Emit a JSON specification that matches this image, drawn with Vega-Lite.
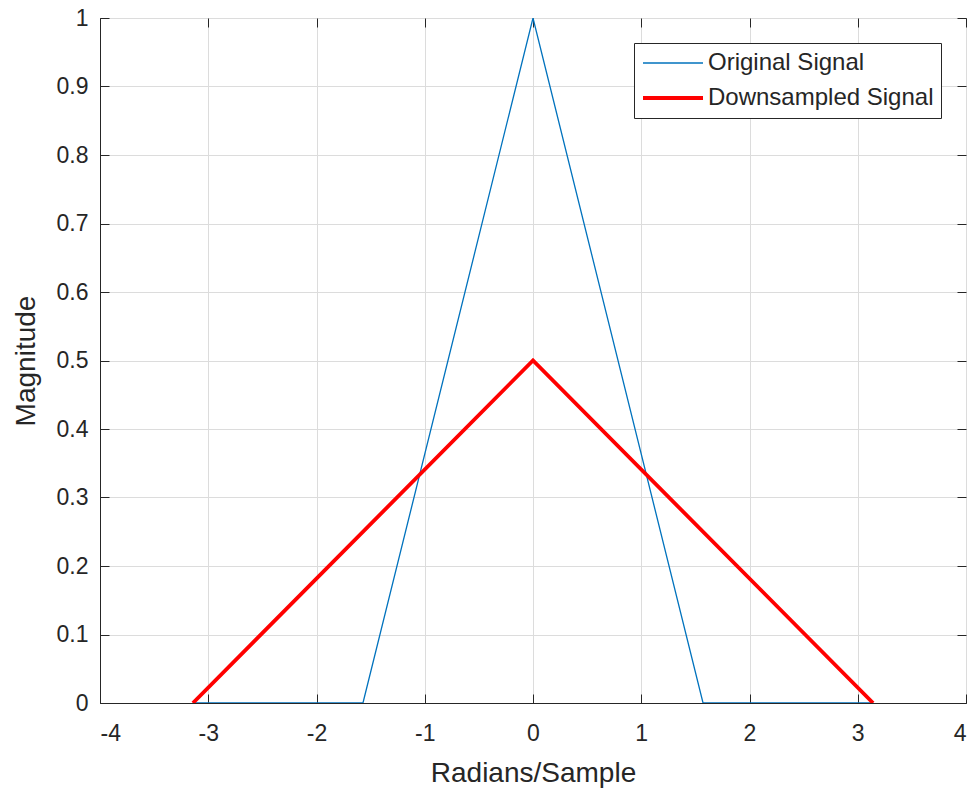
{
  "$schema": "https://vega.github.io/schema/vega-lite/v6.json",
  "width": 866,
  "height": 685,
  "autosize": {"type": "none"},
  "padding": {"left": 100, "top": 18, "right": 10, "bottom": 87},
  "background": "white",
  "config": {
    "font": "Liberation Sans",
    "view": {"stroke": "#262626", "strokeWidth": 1},
    "axis": {
      "domainColor": "#262626",
      "tickColor": "#262626",
      "gridColor": "#dcdcdc",
      "gridOpacity": 1,
      "labelColor": "#262626",
      "titleColor": "#262626",
      "labelFontSize": 23,
      "titleFontSize": 28,
      "titleFontWeight": "normal",
      "tickSize": -9
    }
  },
  "data": {
    "values": [
      {"series": "Original Signal", "x": -3.14159, "y": 0},
      {"series": "Original Signal", "x": -1.5708, "y": 0},
      {"series": "Original Signal", "x": 0, "y": 1},
      {"series": "Original Signal", "x": 1.5708, "y": 0},
      {"series": "Original Signal", "x": 3.14159, "y": 0},
      {"series": "Downsampled Signal", "x": -3.14159, "y": 0},
      {"series": "Downsampled Signal", "x": 0, "y": 0.5},
      {"series": "Downsampled Signal", "x": 3.14159, "y": 0}
    ]
  },
  "layer": [
    {
      "mark": {"type": "line", "clip": true},
      "encoding": {
        "x": {
          "field": "x", "type": "quantitative",
          "scale": {"domain": [-4, 4], "nice": false, "zero": false},
          "axis": {
            "title": "Radians/Sample",
            "values": [-4, -3, -2, -1, 0, 1, 2, 3, 4],
            "labelExpr": "datum.value + ''",
            "labelPadding": 28,
            "titlePadding": 14
          }
        },
        "y": {
          "field": "y", "type": "quantitative",
          "scale": {"domain": [0, 1], "nice": false},
          "axis": {
            "title": "Magnitude",
            "values": [0, 0.1, 0.2, 0.3, 0.4, 0.5, 0.6, 0.7, 0.8, 0.9, 1],
            "format": "~g",
            "labelPadding": 21,
            "titlePadding": 16
          }
        },
        "color": {
          "field": "series", "type": "nominal",
          "scale": {"domain": ["Original Signal", "Downsampled Signal"], "range": ["#0072BD", "#FF0000"]},
          "legend": {
            "title": null,
            "orient": "none",
            "legendX": 534,
            "legendY": 25,
            "symbolType": "stroke",
            "symbolSize": 3600,
            "clipHeight": 26,
            "labelFontSize": 24,
            "labelLimit": 400,
            "labelColor": "#262626",
            "labelFont": "Liberation Sans",
            "strokeColor": "#262626",
            "fillColor": "white",
            "padding": 7,
            "rowPadding": 9,
            "labelOffset": 3
          }
        },
        "strokeWidth": {
          "field": "series", "type": "nominal",
          "scale": {"domain": ["Original Signal", "Downsampled Signal"], "range": [1.3, 3.8]},
          "legend": null
        },
        "order": {"field": "x", "type": "quantitative"}
      }
    },
    {
      "mark": {"type": "line", "opacity": 0},
      "encoding": {
        "x": {
          "field": "x", "type": "quantitative",
          "scale": {"domain": [-4, 4], "nice": false, "zero": false},
          "axis": {
            "orient": "top",
            "title": null,
            "labels": false,
            "grid": false,
            "domain": false,
            "values": [-4, -3, -2, -1, 0, 1, 2, 3, 4]
          }
        },
        "y": {
          "field": "y", "type": "quantitative",
          "scale": {"domain": [0, 1], "nice": false},
          "axis": {
            "orient": "right",
            "title": null,
            "labels": false,
            "grid": false,
            "domain": false,
            "values": [0, 0.1, 0.2, 0.3, 0.4, 0.5, 0.6, 0.7, 0.8, 0.9, 1]
          }
        }
      }
    }
  ],
  "resolve": {"axis": {"x": "independent", "y": "independent"}}
}
